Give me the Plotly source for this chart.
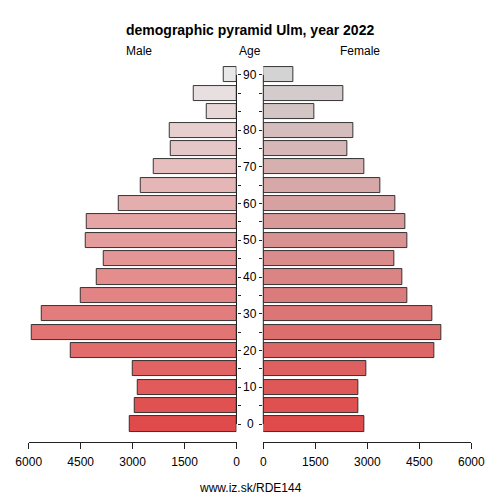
import plotly.graph_objects as go
from plotly.colors import n_colors

# age groups (bottom to top) and the labels shown on the centre axis
age_groups = ["0-4", "5-9", "10-14", "15-19", "20-24", "25-29", "30-34", "35-39",
              "40-44", "45-49", "50-54", "55-59", "60-64", "65-69", "70-74",
              "75-79", "80-84", "85-89", "90-94", "95+"]
age_labels = ["0", "", "10", "", "20", "", "30", "", "40", "",
              "50", "", "60", "", "70", "", "80", "", "", "90"]

male = [3094, 2950, 2863, 3007, 4798, 5915, 5635, 4509, 4047, 3845,
        4365, 4317, 3412, 2757, 2382, 1911, 1920, 861, 1227, 381]
female = [2925, 2740, 2740, 2971, 4933, 5146, 4875, 4154, 4021, 3779,
          4145, 4097, 3819, 3386, 2914, 2424, 2607, 1472, 2318, 857]

x_ticks = [0, 1500, 3000, 4500, 6000]

FONT = "Liberation Sans, Arial, sans-serif"
W = H = 500
OFF = 8  # page body margin


def fx(px):
    return (px - OFF) / W


def fy(py):
    return 1 - (py - OFF) / H


male_cols = n_colors("rgb(224, 74, 74)", "rgb(232, 232, 232)", len(age_groups), colortype="rgb")
female_cols = n_colors("rgb(224, 74, 74)", "rgb(211, 211, 211)", len(age_groups), colortype="rgb")

fig = go.Figure()

fig.add_trace(go.Bar(x=male, y=age_groups, orientation="h", width=0.82,
                     marker=dict(color=male_cols, line=dict(color="#222222", width=0.9)),
                     xaxis="x", yaxis="y", showlegend=False))
fig.add_trace(go.Bar(x=female, y=age_groups, orientation="h", width=0.82,
                     marker=dict(color=female_cols, line=dict(color="#222222", width=0.9)),
                     xaxis="x2", yaxis="y2", showlegend=False))

xaxis_common = dict(tickvals=x_ticks, ticktext=[str(v) for v in x_ticks],
                    showline=True, linecolor="#222222", linewidth=1,
                    ticks="outside", ticklen=6, tickcolor="#222222",
                    ticklabelstandoff=3,
                    showgrid=False, zeroline=False, automargin=False,
                    tickfont=dict(size=12, color="#000000", family=FONT))
yaxis_common = dict(type="category", categoryorder="array", categoryarray=age_groups,
                    range=[-0.98, 19.54], domain=[fy(442), fy(65)],
                    tickvals=age_groups, ticks="outside", ticklen=3,
                    tickcolor="#222222", showticklabels=False, automargin=False,
                    showline=False, showgrid=False, zeroline=False)

fig.update_layout(
    width=W, height=H,
    margin=dict(l=0, r=0, t=0, b=0),
    paper_bgcolor="white", plot_bgcolor="white",
    bargap=0,
    xaxis=dict(domain=[fx(28.7), fx(236.5)], range=[6000, 0], anchor="y", **xaxis_common),
    xaxis2=dict(domain=[fx(263.3), fx(471.3)], range=[0, 6000], anchor="y2", **xaxis_common),
    yaxis=dict(anchor="x", side="right", **yaxis_common),
    yaxis2=dict(anchor="x2", side="left", **yaxis_common),
)

# centre axis lines, first to last tick
fig.add_shape(type="line", xref="x domain", yref="y", x0=1, x1=1,
              y0=age_groups[0], y1=age_groups[-1], line=dict(color="#222222", width=1))
fig.add_shape(type="line", xref="x2 domain", yref="y2", x0=0, x1=0,
              y0=age_groups[0], y1=age_groups[-1], line=dict(color="#222222", width=1))

# age labels in the middle
for g, lab in zip(age_groups, age_labels):
    if lab:
        fig.add_annotation(x=fx(250), xref="paper", y=g, yref="y", text=lab,
                           showarrow=False, xanchor="center", yanchor="middle",
                           font=dict(size=12, color="#000000", family=FONT))

# titles
fig.add_annotation(x=fx(250), y=fy(30), xref="paper", yref="paper",
                   text="<b>demographic pyramid Ulm, year 2022</b>", showarrow=False,
                   xanchor="center", yanchor="middle",
                   font=dict(size=14, color="#000000", family=FONT))
for txt, xp in [("Male", 139), ("Age", 249.5), ("Female", 360)]:
    fig.add_annotation(x=fx(xp), y=fy(51), xref="paper", yref="paper",
                       text=txt, showarrow=False, xanchor="center", yanchor="middle",
                       font=dict(size=12, color="#000000", family=FONT))
fig.add_annotation(x=fx(250), y=fy(488), xref="paper", yref="paper",
                   text="www.iz.sk/RDE144", showarrow=False,
                   xanchor="center", yanchor="middle",
                   font=dict(size=12, color="#000000", family=FONT))

fig.write_html("out.html")
